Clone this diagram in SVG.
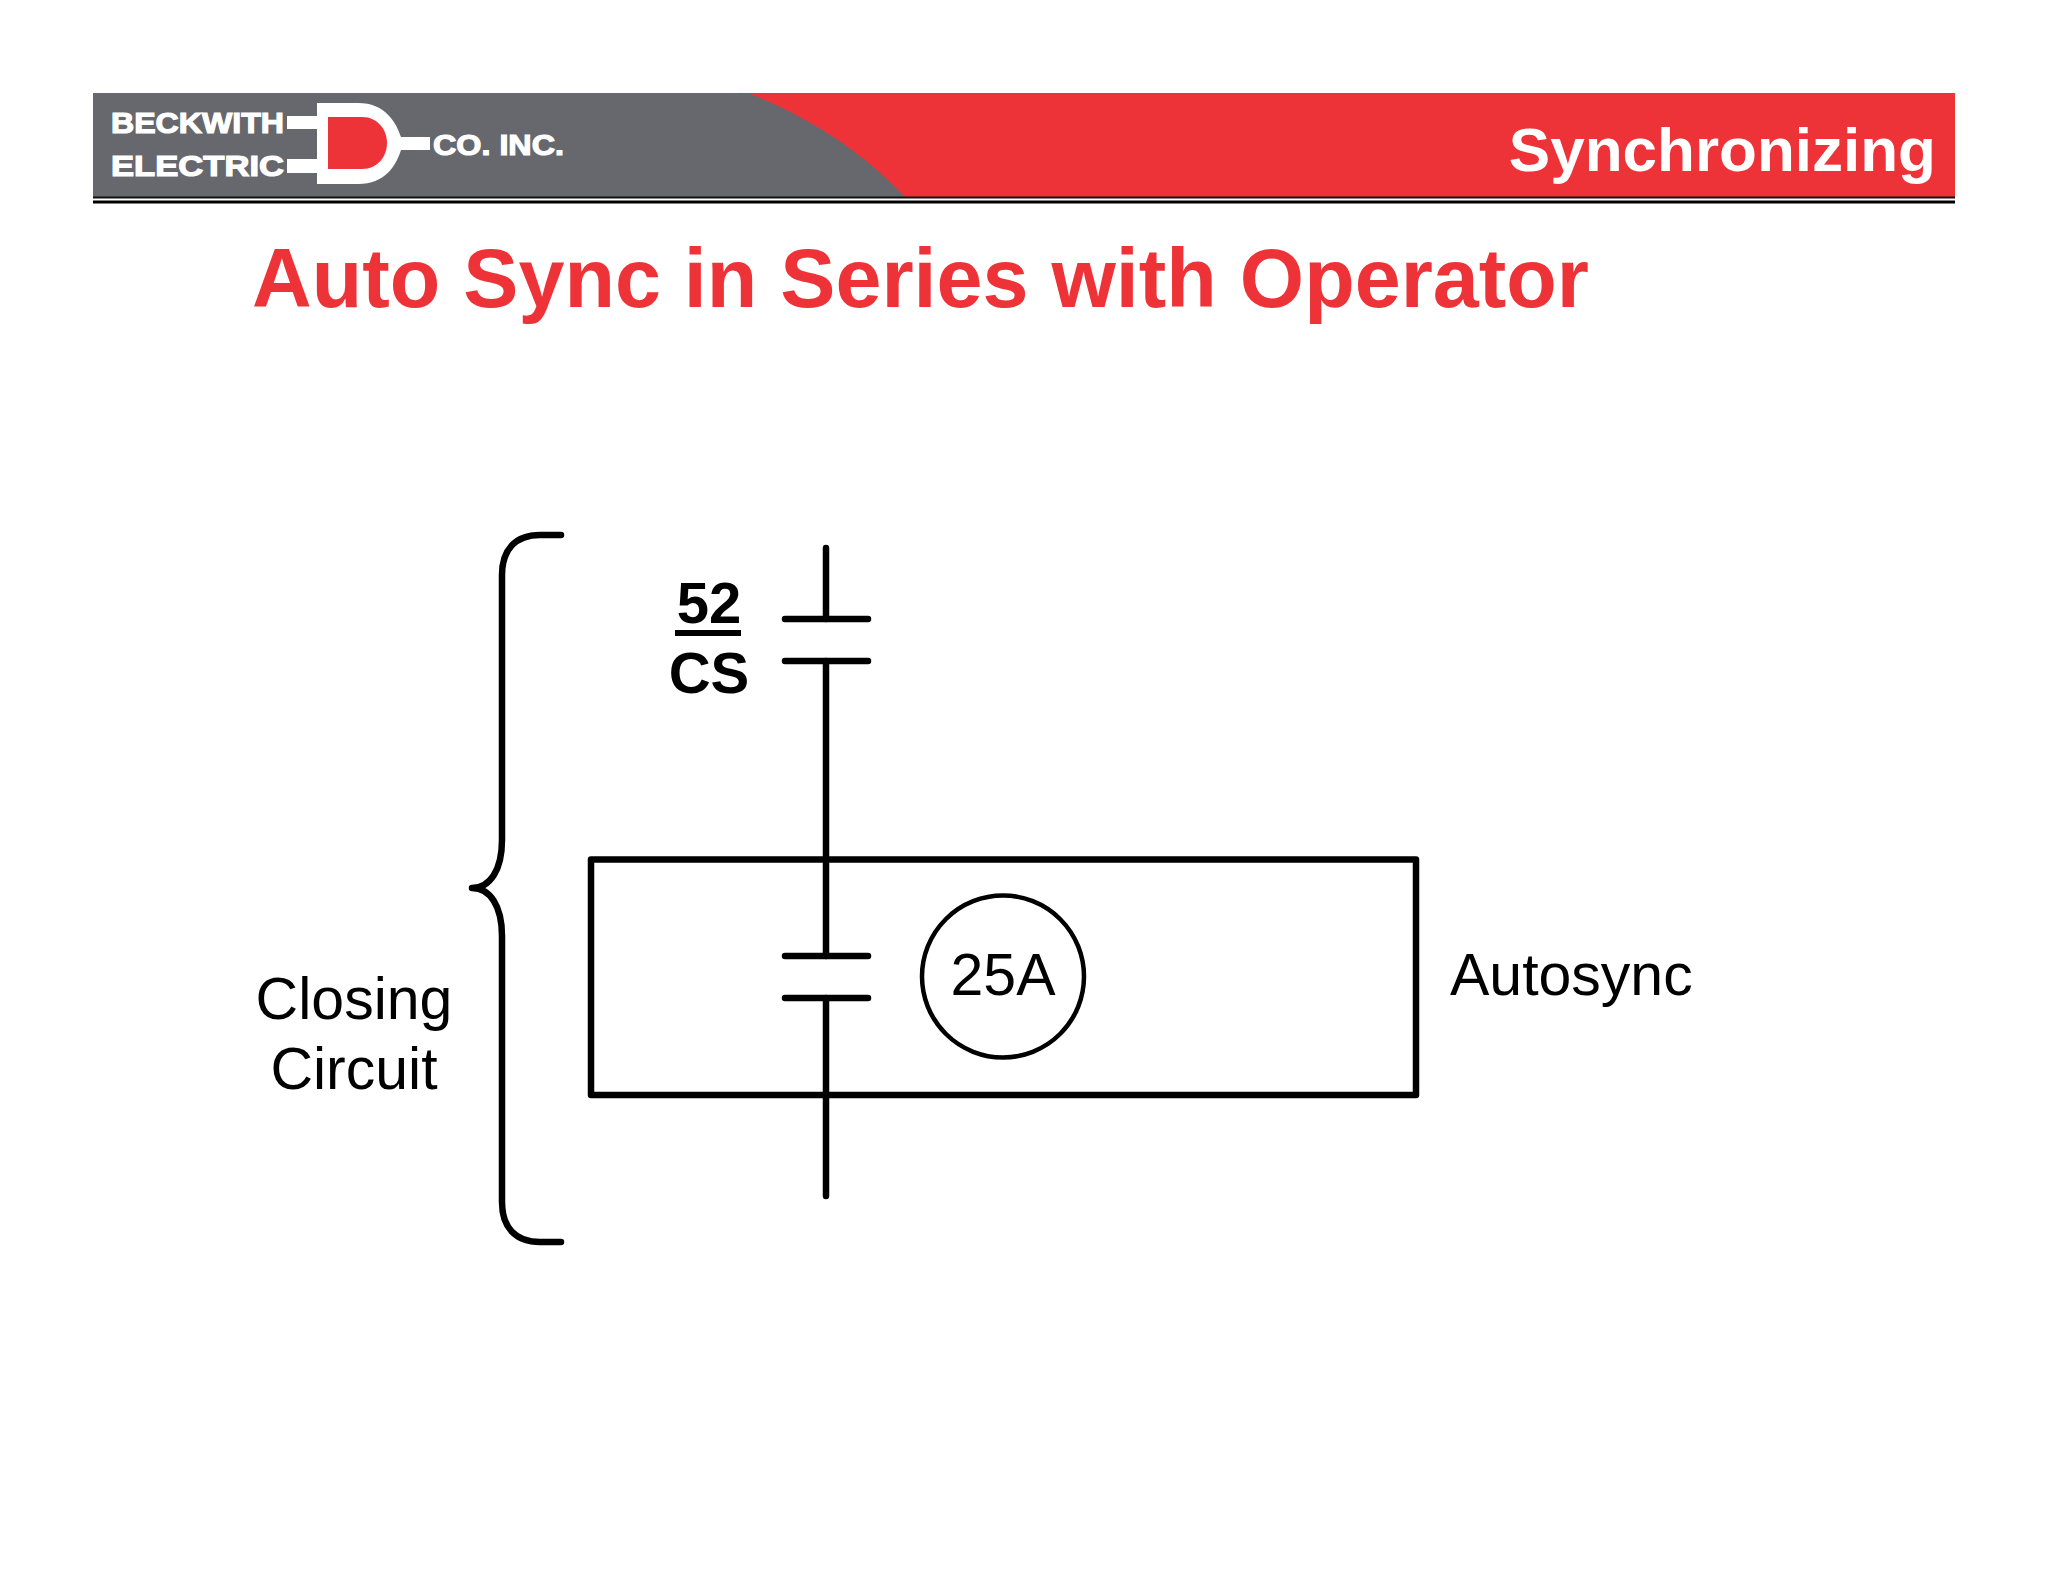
<svg xmlns="http://www.w3.org/2000/svg" width="2048" height="1582" viewBox="0 0 2048 1582">
<style>
text{font-family:"Liberation Sans",Arial,sans-serif}
.w{fill:none;stroke:#000;stroke-width:6.5;stroke-linecap:round;stroke-linejoin:round}
.l{font-size:59px;fill:#000}
.b{font-size:58px;font-weight:bold;fill:#000}
.g{font-weight:bold;fill:#fff;stroke:#fff;stroke-width:1.2}
</style>
<rect width="2048" height="1582" fill="#fff"/>
<g id="header">
<rect x="93" y="93" width="1862" height="104" fill="#ee3338"/>
<path d="M93 93H748C810 118 860 150 905 197H93Z" fill="#66686d"/>
<rect x="93" y="196.500" width="1862" height="2" fill="#111"/>
<rect x="93" y="200.500" width="1862" height="3" fill="#000"/>
</g>
<g id="logo">
<path d="M287 116H317V103H358C385 103 396 122 401 137H430V150H401C396 166 385 184 358 184H317V173H287V159H317V129H287Z" fill="#fff"/>
<path d="M328 117H362C378 117 387 130 387 143C387 156 378 169 362 169H328Z" fill="#ee3338"/>
<text class="g" x="111" y="133" font-size="29" textLength="173" lengthAdjust="spacingAndGlyphs">BECKWITH</text>
<text class="g" x="111" y="176" font-size="29" textLength="173" lengthAdjust="spacingAndGlyphs">ELECTRIC</text>
<text class="g" x="433" y="155" font-size="29" textLength="131" lengthAdjust="spacingAndGlyphs">CO. INC.</text>
</g>
<text id="section" x="1936" y="171" text-anchor="end" font-size="62" font-weight="bold" fill="#fff">Synchronizing</text>
<text id="title" x="252" y="307" font-size="82.700" font-weight="bold" fill="#ee3338">Auto Sync in Series with Operator</text>
<g id="connectors">
<path class="w" d="M826 548V619M826 661V956M826 998V1196"/>
</g>
<g id="contact-52cs">
<path class="w" d="M785 619H868M785 661H868"/>
<text class="b" x="709" y="623" text-anchor="middle">52</text>
<rect x="675" y="630" width="66" height="6"/>
<text class="b" x="709" y="693" text-anchor="middle">CS</text>
</g>
<g id="autosync">
<rect class="w" x="591" y="859.500" width="825" height="235.500"/>
<path class="w" d="M785 956H868M785 998H868"/>
<circle cx="1003" cy="976.500" r="81" fill="#fff" stroke="#000" stroke-width="4.500"/>
<text class="l" x="1003" y="995" text-anchor="middle">25A</text>
<text class="l" x="1450" y="995">Autosync</text>
</g>
<g id="closing-circuit">
<path class="w" d="M561 535H540C515 535 502 550 502 575V840C502 870 490 888 472 888C490 888 502 906 502 936V1202C502 1227 515 1242 540 1242H561"/>
<text class="l" x="354" y="1019" text-anchor="middle">Closing</text>
<text class="l" x="354" y="1089" text-anchor="middle">Circuit</text>
</g>
</svg>
